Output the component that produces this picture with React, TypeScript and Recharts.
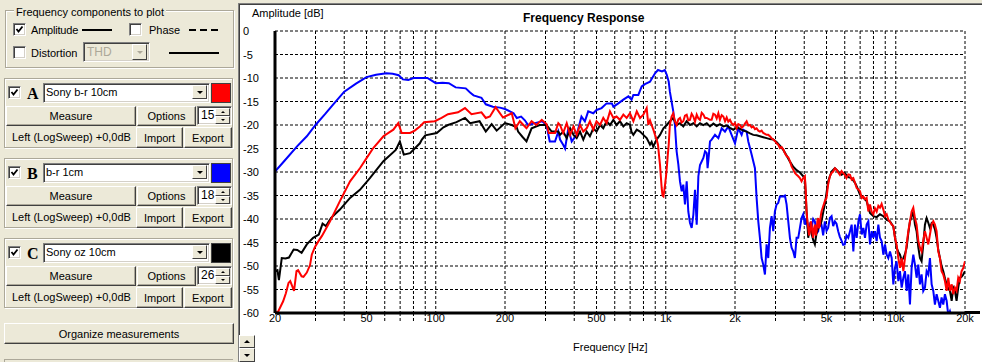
import React from 'react';
import { LineChart, Line, XAxis, YAxis, CartesianGrid } from 'recharts';

// A: Sony b-r 10cm (red)
const freqA = [
  20, 20.5, 21.7, 22.3, 22.9, 23.3, 24.2, 24.8, 25.2, 26.1,
  26.6, 27.5, 28.4, 28.9, 29.8, 31.1, 32, 34.7, 38.3, 42.4,
  46.8, 50.1, 53.5, 59.2, 65.4, 68.7, 71.1, 77.3, 81, 85.3,
  89, 99, 106, 113, 125, 134, 143, 158, 165, 172,
  182, 196, 214, 222, 232, 248, 261, 274, 289, 303,
  310, 330, 341, 347, 358, 371, 384, 397, 410, 424,
  438, 453, 468, 484, 500, 518, 535, 553, 572, 592,
  611, 632, 654, 676, 699, 723, 748, 773, 799, 826,
  840, 854, 868, 883, 898, 912, 925, 935, 944, 952,
  960, 968, 977, 985, 993, 1002, 1010, 1020, 1030, 1042,
  1060, 1078, 1096, 1115, 1134, 1153, 1172, 1192, 1212, 1233,
  1253, 1274, 1296, 1318, 1340, 1363, 1386, 1409, 1433, 1457,
  1482, 1507, 1557, 1583, 1610, 1637, 1665, 1693, 1720, 1750,
  1780, 1810, 1840, 1870, 1902, 1933, 1966, 2000, 2033, 2067,
  2102, 2137, 2173, 2210, 2247, 2285, 2323, 2362, 2402, 2442,
  2483, 2525, 2567, 2610, 2654, 2699, 2744, 2790, 2837, 2885,
  2933, 2982, 3032, 3083, 3136, 3190, 3243, 3297, 3352, 3409,
  3466, 3524, 3583, 3643, 3705, 3767, 3830, 3894, 3960, 4026,
  4060, 4094, 4130, 4163, 4200, 4233, 4270, 4303, 4340, 4377,
  4410, 4450, 4490, 4525, 4560, 4600, 4640, 4678, 4715, 4755,
  4835, 4916, 4998, 5080, 5170, 5260, 5345, 5435, 5525, 5620,
  5713, 5810, 5905, 6000, 6105, 6215, 6325, 6430, 6540, 6649,
  6760, 6880, 6990, 7110, 7230, 7349, 7470, 7600, 7726, 7860,
  7990, 8120, 8260, 8400, 8540, 8680, 8830, 8977, 9130, 9280,
  9437, 9600, 9760, 9920, 10080, 10260, 10430, 10610, 10790, 10965,
  11150, 11340, 11527, 11720, 11920, 12118, 12320, 12530, 12740, 12950,
  13170, 13393, 13620, 13850, 14080, 14320, 14560, 14800, 15050, 15300,
  15560, 15820, 16090, 16360, 16640, 16920, 17200, 17500, 17790, 18080,
  18380, 18690, 19000, 19330, 19660, 20000,
];
const ampA = [
  -59.6, -60, -57.5, -55.8, -53.6, -53.2, -55.3, -51.1, -50.9, -52.2,
  -52.3, -51.4, -49.8, -47.6, -46.0, -44.5, -43.6, -40.5, -36.2, -32,
  -29.2, -27, -24.9, -22.4, -21, -19.6, -21.7, -21.7, -21.2, -20.3,
  -19.4, -19.2, -18.5, -17.7, -17.3, -16.4, -17.7, -17.3, -18.5, -18.2,
  -16.2, -18.4, -17.5, -20.7, -19.2, -20.7, -19.2, -20, -18.9, -19.8,
  -21.7, -21.7, -19.6, -20, -21.7, -19.6, -22.1, -20.3, -22.1, -20,
  -21.4, -20.7, -19.2, -21, -19.2, -20, -18.5, -19.6, -17.1, -18.5,
  -18.2, -18.9, -17.8, -18.5, -17.5, -19.2, -17.1, -18.5, -17.8, -16.4,
  -20, -19, -20, -21, -22.1, -23, -24.2, -26.5, -28.5, -31,
  -33.4, -35, -35.2, -34, -32.7, -31, -29.2, -26.5, -24.2, -20,
  -18.2, -17.5, -19.2, -20, -18.8, -18.5, -19.5, -19.2, -18, -17.8,
  -19, -18.9, -17.6, -18.2, -19.3, -17.8, -18.6, -18.9, -17.4, -17.8,
  -18.5, -18.5, -18.9, -18.9, -17.6, -17.8, -18.6, -17.5, -18.9, -17.9,
  -18.2, -19.2, -18.4, -19.3, -18.9, -19.6, -20, -19.6, -20.7, -19.8,
  -20, -20.6, -20.3, -19.7, -19.2, -20.1, -20, -20.5, -20.3, -20.9,
  -20.7, -21.2, -21.4, -21.2, -21.7, -21.9, -22.1, -22.1, -22.4, -22.8,
  -23.1, -23.4, -23.9, -24.2, -24.9, -24.7, -25.2, -26, -26.6, -26.9,
  -27.7, -28.8, -29.5, -30.2, -30.6, -30.9, -31.3, -32, -31.3, -30.9,
  -34, -38.4, -40.5, -41.9, -43.5, -42.6, -40.5, -41.2, -43, -44,
  -42, -41.2, -43.5, -42.6, -40.5, -39.8, -42, -41.2, -39.5, -38.4,
  -37.3, -36.2, -35.5, -32.7, -30.9, -30.2, -29.9, -29.2, -29.5, -30.1,
  -30.6, -29.8, -30.2, -30.6, -31.3, -30.5, -30.6, -31.6, -31.3, -32.3,
  -33.4, -33.7, -34.1, -35.5, -35.2, -35.8, -35.5, -38.4, -36.9, -38.5,
  -39, -37.7, -38.4, -37.2, -37.6, -36.8, -38, -39.4, -39, -40.1,
  -40.6, -41.2, -41.5, -44, -45.4, -48.3, -50.4, -48.3, -51.1, -48.3,
  -45.4, -42.6, -40.5, -38.4, -37.6, -39.8, -41.2, -44.6, -46.1, -46.9,
  -44.6, -42.6, -44, -45.4, -43.3, -41.2, -40.5, -41.2, -42.6, -46.9,
  -48.3, -51.1, -51.8, -53.2, -55.3, -52.5, -55.3, -53.9, -56, -54.6,
  -55.3, -52.5, -53.2, -51.1, -50.4, -49,
];

// B: b-r 1cm (blue)
const freqB = [
  20, 22, 25, 27.5, 30, 33, 36, 40, 45, 50,
  55, 61, 65, 69, 72, 76, 80, 85, 92, 100,
  107, 114, 122, 135, 141, 146, 158, 165, 177, 190,
  200, 210, 218, 225, 235, 244, 252, 270, 290, 303,
  313, 330, 341, 347, 358, 365, 371, 377, 390, 410,
  430, 445, 460, 484, 500, 526, 553, 583, 592, 622,
  654, 688, 710, 723, 760, 786, 812, 854, 898, 925,
  963, 990, 1010, 1030, 1042, 1060, 1078, 1096, 1115, 1134,
  1153, 1173, 1192, 1212, 1233, 1253, 1274, 1296, 1318, 1340,
  1363, 1386, 1409, 1457, 1482, 1507, 1520, 1540, 1557, 1583,
  1637, 1693, 1750, 1809, 1870, 1933, 2000, 2067, 2137, 2173,
  2247, 2285, 2362, 2442, 2483, 2525, 2567, 2610, 2654, 2699,
  2744, 2790, 2837, 2885, 2933, 2982, 3032, 3083, 3136, 3243,
  3297, 3352, 3409, 3466, 3524, 3583, 3643, 3705, 3767, 3830,
  3894, 3960, 4026, 4094, 4163, 4233, 4303, 4377, 4450, 4525,
  4600, 4678, 4755, 4835, 4916, 5000, 5080, 5170, 5260, 5345,
  5435, 5525, 5620, 5713, 5810, 5905, 6000, 6105, 6215, 6325,
  6430, 6540, 6649, 6760, 6880, 6990, 7110, 7230, 7349, 7470,
  7600, 7726, 7860, 7990, 8120, 8260, 8400, 8540, 8680, 8830,
  8977, 9130, 9280, 9437, 9600, 9760, 9920, 10080, 10260, 10430,
  10610, 10790, 10965, 11150, 11340, 11527, 11720, 11920, 12118, 12320,
  12530, 12740, 12950, 13170, 13393, 13620, 13850, 14080, 14320, 14560,
  14800, 15050, 15300, 15560, 15820, 16090, 16360, 16640, 16920, 17200,
  17500, 17790, 18080, 18380, 18690, 19000, 20000,
];
const ampB = [
  -29.9, -27.6, -24.5, -22.4, -20, -17.7, -15.5, -12.9, -11.2, -9.8,
  -9.3, -9.0, -9.1, -9.4, -10.3, -10.4, -10, -10, -10, -11.1,
  -11, -11.1, -12, -12.2, -13.1, -13.7, -14.2, -15.6, -16.1, -16.3,
  -16.6, -17.1, -17.5, -18.5, -18.2, -19, -20, -19.6, -19.2, -20,
  -23.5, -23.5, -21.4, -23.1, -24.2, -25, -22.8, -20.7, -23.5, -22.1,
  -18.2, -19.2, -17.1, -17.5, -16.8, -16.4, -15.4, -15.4, -16.1, -15.4,
  -14.6, -13.9, -14.6, -13.6, -13.6, -11.8, -11.3, -10.8, -9, -8.3,
  -8.6, -8.3, -9.3, -10.8, -12.9, -15, -17.1, -20, -25.6, -28.4,
  -32, -34.1, -32.7, -36.9, -32, -38.4, -40.8, -41.9, -39.1, -33.8,
  -41.2, -30.9, -28.5, -27, -25.6, -26, -29.2, -26.3, -23.5, -23.1,
  -22.1, -22.8, -20.7, -21.4, -20.3, -22.1, -23.9, -20.7, -22.1, -21,
  -21.4, -23.5, -26.3, -29.2, -35.5, -40.5, -44, -48.3, -49.7, -51.8,
  -45.4, -48.3, -41.9, -39.4, -42.6, -38.4, -36.9, -36.6, -35.2, -35.2,
  -35, -36.9, -40.5, -44, -46.1, -46.9, -48.3, -44, -44, -41.9,
  -39.8, -39, -41.2, -39.8, -42.6, -41.2, -41.9, -40, -40.5, -43,
  -42.6, -40.2, -41.2, -43.5, -40.5, -42.5, -41.9, -39.8, -39.4, -41.5,
  -40.5, -41, -42.6, -43.8, -44.6, -45.5, -45.4, -43.5, -44, -42.6,
  -41.2, -46.9, -41.2, -44, -40.5, -39, -43.3, -41.9, -44, -41.2,
  -40.5, -45.4, -42.6, -44, -42.6, -44.7, -41.2, -44, -44.7, -47.6,
  -45.4, -47.6, -48.3, -46.9, -48.3, -53.9, -50.4, -49, -53.2, -51.1,
  -54.6, -52.5, -51.1, -55.3, -51.8, -58.2, -50.4, -47.6, -49.7, -52.5,
  -49.7, -53.9, -51.8, -55.3, -54.6, -51.1, -51.8, -48.3, -53.9, -55.3,
  -58.2, -56, -57.4, -58.9, -56.7, -58.2, -56, -57.4, -60.5, -59.6,
  -61, -62, -59.8, -63, -64, -65, -66,
];

// C: Sony oz 10cm (black)
const freqC = [
  20, 20.5, 20.8, 21.4, 22.2, 23, 24.1, 25, 26.1, 27.5,
  29.3, 31, 32.2, 33.3, 35, 38.3, 42.4, 46.8, 51.7, 59.2,
  67, 69.8, 72.6, 77.3, 81, 85.3, 87, 90, 101, 108,
  113, 123, 134, 141, 155, 165, 175, 184, 200, 214,
  225, 228, 238, 248, 261, 283, 303, 319, 341, 347,
  358, 371, 384, 397, 410, 424, 438, 453, 468, 484,
  500, 518, 535, 553, 572, 592, 611, 632, 654, 676,
  699, 710, 723, 748, 773, 799, 826, 854, 868, 882,
  898, 912, 944, 977, 1010, 1042, 1078, 1115, 1153, 1192,
  1233, 1274, 1318, 1363, 1409, 1457, 1507, 1557, 1610, 1665,
  1720, 1780, 1840, 1902, 1966, 2033, 2102, 2173, 2247, 2323,
  2402, 2483, 2567, 2654, 2744, 2837, 2933, 3032, 3136, 3243,
  3352, 3466, 3583, 3705, 3830, 3960, 4026, 4094, 4130, 4163,
  4200, 4233, 4303, 4377, 4450, 4525, 4600, 4678, 4755, 4835,
  4916, 4998, 5080, 5260, 5435, 5620, 5810, 6000, 6215, 6430,
  6649, 6760, 6990, 7230, 7470, 7726, 7990, 8260, 8540, 8830,
  9130, 9437, 9760, 10080, 10260, 10430, 10610, 10790, 10965, 11150,
  11340, 11527, 11720, 11920, 12118, 12320, 12530, 12740, 12950, 13170,
  13393, 13620, 13850, 14080, 14320, 14560, 14800, 15050, 15300, 15560,
  15820, 16090, 16360, 16640, 16920, 17200, 17500, 17790, 18080, 18380,
  18690, 19000, 19330, 19660, 20000,
];
const ampC = [
  -51.1, -50.9, -53, -48.3, -48.4, -48.2, -46.5, -46.6, -47.2, -45.4,
  -44, -43.3, -41, -41.5, -39.8, -38, -35.5, -33.8, -31.3, -27.7,
  -25.3, -23.5, -26.3, -26, -25, -23.9, -23.1, -22.2, -21.7, -20.5,
  -20, -19.4, -18.5, -19.6, -19.2, -21.4, -19.8, -21.2, -19.6, -20,
  -20.5, -21.4, -22.5, -23.5, -20.7, -20, -20, -21.4, -21.4, -22.1,
  -21.4, -22.8, -20.7, -22.1, -22.8, -21.4, -23.1, -21.4, -22.4, -20.7,
  -21.4, -20, -20.7, -19.2, -20, -18.9, -20, -19.2, -20.3, -19.6,
  -20, -21.5, -22.1, -21, -21.4, -22.1, -22.8, -24.2, -23.6, -24.6,
  -23.8, -23.1, -22.1, -20.7, -20, -19.2, -18.5, -20, -19.6, -20.3,
  -19.2, -20, -19.6, -20.3, -19.6, -20, -19.6, -20.3, -19.7, -20.2,
  -19.8, -20.3, -20.1, -20.6, -21, -20.5, -20.8, -21.2, -21.4, -21.8,
  -22.1, -22.2, -22.4, -22.6, -22.8, -23, -23.1, -23.6, -24.4, -25.3,
  -26.5, -27.8, -28.9, -29.6, -30.1, -30.9, -31.3, -38.4, -41, -44,
  -42.5, -41.5, -43.1, -44.5, -45.4, -43, -41.9, -41.5, -40.5, -38.6,
  -36.9, -34.5, -32, -29.9, -29.2, -29.9, -30.6, -30.2, -31.1, -31.3,
  -32.3, -33, -34.8, -35.5, -36.2, -38.7, -39.4, -39.6, -39, -39.4,
  -40.2, -40.5, -41.6, -46.1, -47, -47.6, -48.8, -48.3, -47.5, -46.1,
  -43, -40.5, -39.5, -38.4, -41.2, -42.6, -46, -48.3, -49, -45.4,
  -41.2, -39.8, -40.8, -41.9, -40.9, -41.2, -42.2, -44, -46.5, -48.3,
  -50, -51.1, -52.6, -53.9, -54.8, -55.3, -57.4, -54.6, -55.3, -57.4,
  -54.6, -52.5, -52.3, -51.8, -51.1,
];

const dbTicks = [0, -5, -10, -15, -20, -25, -30, -35, -40, -45, -50, -55, -60];
const gridFreqs = [
  20, 30, 40, 50, 60, 70, 80, 90, 100, 200, 300, 400, 500, 600, 700, 800, 900,
  1000, 2000, 3000, 4000, 5000, 6000, 7000, 8000, 9000, 10000, 20000,
];
const freqLabels: Record<number, string> = {
  20: '20', 50: '50', 100: '100', 200: '200', 500: '500',
  1000: '1k', 2000: '2k', 5000: '5k', 10000: '10k', 20000: '20k',
};

const measurements = [
  { letter: 'A', name: 'Sony b-r 10cm', color: '#FF0000', avg: '15' },
  { letter: 'B', name: 'b-r 1cm', color: '#0000FF', avg: '18' },
  { letter: 'C', name: 'Sony oz 10cm', color: '#000000', avg: '26' },
];

const toRows = (f: number[], a: number[]) => f.map((v, i) => ({ f: v, db: a[i] }));
const seriesA = toRows(freqA, ampA);
const seriesB = toRows(freqB, ampB);
const seriesC = toRows(freqC, ampC);

const FONT = '"Liberation Sans", Arial, sans-serif';
const BG = '#ECE9D8';

const abs = (x: number, y: number, w?: number, h?: number): React.CSSProperties => ({
  position: 'absolute', left: x, top: y, width: w, height: h, boxSizing: 'border-box',
});

const Label = ({ x, y, text, style }: { x: number; y: number; text: string; style?: React.CSSProperties }) => (
  <div style={{ ...abs(x, y - 7), height: 14, lineHeight: '14px', fontSize: 11, whiteSpace: 'nowrap', ...style }}>{text}</div>
);

const Button = ({ x, y, w, h, label }: { x: number; y: number; w: number; h: number; label: string }) => (
  <div style={{
    ...abs(x, y, w, h), background: BG,
    borderTop: '1px solid #fff', borderLeft: '1px solid #fff',
    borderRight: '1px solid #404040', borderBottom: '1px solid #404040',
    boxShadow: 'inset -1px -1px 0 #ACA899',
    display: 'flex', alignItems: 'center', justifyContent: 'center', fontSize: 11,
  }}>{label}</div>
);

const Tri = ({ down = true, size = 3.5, color = '#000' }: { down?: boolean; size?: number; color?: string }) => (
  <div style={{
    width: 0, height: 0,
    borderLeft: `${size}px solid transparent`, borderRight: `${size}px solid transparent`,
    ...(down ? { borderTop: `${size}px solid ${color}` } : { borderBottom: `${size}px solid ${color}` }),
  }} />
);

const SmallBtn = ({ x, y, w, h, down, color }: { x: number; y: number; w: number; h: number; down: boolean; color?: string }) => (
  <div style={{
    ...abs(x, y, w, h), background: BG,
    borderTop: '1px solid #fff', borderLeft: '1px solid #fff',
    borderRight: '1px solid #404040', borderBottom: '1px solid #404040',
    display: 'flex', alignItems: 'center', justifyContent: 'center',
  }}><Tri down={down} size={h > 10 ? 3.5 : 2.5} color={color} /></div>
);

const sunken: React.CSSProperties = {
  borderTop: '1px solid #808080', borderLeft: '1px solid #808080',
  borderRight: '1px solid #fff', borderBottom: '1px solid #fff',
  boxShadow: 'inset 1px 1px 0 #404040, inset -1px -1px 0 #D4D0C8',
};

const CheckBox = ({ x, y, checked }: { x: number; y: number; checked?: boolean }) => (
  <div style={{ ...abs(x, y, 13, 13), background: '#fff', ...sunken }}>
    {checked && (
      <svg width={11} height={11} style={{ position: 'absolute', left: 0, top: 0 }}>
        <path d="M2.5 5 L4.5 7.5 L8.5 2.5" stroke="#000" strokeWidth={1.8} fill="none" />
      </svg>
    )}
  </div>
);

const Frame = ({ x, y, w, h }: { x: number; y: number; w: number; h: number }) => (
  <div style={{ ...abs(x, y, w, h), border: '1px solid #ACA899', boxShadow: 'inset 1px 1px 0 #fff, 1px 1px 0 #fff' }} />
);

const MeasurementBox = ({ y, letter, name, color, avg }: { y: number; letter: string; name: string; color: string; avg: string }) => (
  <>
    <Frame x={4} y={y} w={229} h={70} />
    <CheckBox x={8} y={y + 8} checked />
    <Label x={27} y={y + 16} text={letter} style={{ fontFamily: '"Liberation Serif", serif', fontWeight: 'bold', fontSize: 16 }} />
    <div style={{ ...abs(43, y + 5, 167, 20), background: '#fff', ...sunken }}>
      <Label x={2} y={8} text={name} />
      <SmallBtn x={148} y={1} w={15} h={14} down />
    </div>
    <div style={{ ...abs(211, y + 5, 20, 20), background: color, border: '1px solid #404040' }} />
    <Button x={6} y={y + 28} w={130} h={20} label="Measure" />
    <Button x={137} y={y + 28} w={59} h={20} label="Options" />
    <div style={{ ...abs(197, y + 28, 35, 19), background: '#fff', ...sunken }}>
      <Label x={3} y={8} text={avg} style={{ fontSize: 12 }} />
      <SmallBtn x={17} y={1} w={15} h={8} down={false} />
      <SmallBtn x={17} y={9} w={15} h={8} down />
    </div>
    <Label x={12} y={y + 59} text="Left (LogSweep) +0,0dB" />
    <Button x={136} y={y + 49} w={47} h={21} label="Import" />
    <Button x={184} y={y + 49} w={48} h={21} label="Export" />
  </>
);

// labelled ticks show text, the others continue the dashed grid below the axis
const FreqTick = (props: any) => {
  const { x, y, payload } = props;
  const label = freqLabels[payload.value];
  if (!label) {
    return <line x1={x} y1={y - 10} x2={x} y2={y - 2} stroke="#000" strokeDasharray="3 2" />;
  }
  return (
    <text x={x} y={y - 5} textAnchor="middle" dominantBaseline="central" fontSize={11} fontFamily={FONT} fill="#000">
      {label}
    </text>
  );
};

const DbTick = (props: any) => {
  const { y, payload } = props;
  return (
    <text x={3} y={y} textAnchor="start" dominantBaseline="central" fontSize={11} fontFamily={FONT} fill="#000">
      {payload.value}
    </text>
  );
};

const FrequencyChart = () => (
  <LineChart width={742} height={357} margin={{ top: 26, right: 17, bottom: 0, left: 0 }}>
    <CartesianGrid stroke="#000" strokeDasharray="3 2" />
    <XAxis
      dataKey="f"
      type="number"
      scale="log"
      domain={[20, 20000]}
      allowDataOverflow
      ticks={gridFreqs}
      interval={0}
      height={49}
      tick={FreqTick}
      tickSize={8}
      tickLine={false}
      axisLine={{ stroke: '#000', strokeWidth: 3 }}
    />
    <YAxis
      type="number"
      domain={[-60, 0]}
      allowDataOverflow
      ticks={dbTicks}
      interval={0}
      width={35}
      tick={DbTick}
      tickLine={false}
      axisLine={{ stroke: '#000', strokeWidth: 3 }}
    />
    <Line data={seriesB} dataKey="db" stroke="#0000FF" strokeWidth={2} dot={false} isAnimationActive={false} />
    <Line data={seriesC} dataKey="db" stroke="#000000" strokeWidth={2} dot={false} isAnimationActive={false} />
    <Line data={seriesA} dataKey="db" stroke="#FF0000" strokeWidth={2} dot={false} isAnimationActive={false} />
  </LineChart>
);

export default function App() {
  return (
    <div style={{ ...abs(0, 0, 982, 362), background: BG, overflow: 'hidden', fontFamily: FONT, color: '#000' }}>
      {/* plot options */}
      <Frame x={5} y={10} w={229} h={58} />
      <Label x={14} y={12} text="Frequency components to plot" style={{ background: BG, padding: '0 2px' }} />
      <CheckBox x={13} y={23} checked />
      <Label x={31} y={30} text="Amplitude" style={{ letterSpacing: -0.2 }} />
      <div style={{ ...abs(82, 29, 30, 2), background: '#000' }} />
      <CheckBox x={129} y={23} />
      <Label x={149} y={30} text="Phase" />
      <svg style={{ position: 'absolute', left: 189, top: 28 }} width={31} height={4}>
        <line x1={0} y1={2} x2={31} y2={2} stroke="#000" strokeWidth={2} strokeDasharray="7 4" />
      </svg>
      <CheckBox x={13} y={46} />
      <Label x={31} y={53} text="Distortion" />
      <div style={{ ...abs(83, 42, 67, 20), background: BG, ...sunken }}>
        <Label x={3} y={9} text="THD" style={{ color: '#ACA899', fontSize: 12 }} />
        <SmallBtn x={48} y={1} w={15} h={16} down color="#ACA899" />
      </div>
      <div style={{ ...abs(169, 52, 50, 2), background: '#000' }} />

      {measurements.map((m, i) => (
        <MeasurementBox key={m.letter} y={78 + i * 80} letter={m.letter} name={m.name} color={m.color} avg={m.avg} />
      ))}

      <Button x={4} y={323} w={230} h={21} label="Organize measurements" />
      <div style={{ ...abs(4, 359, 229, 3), borderTop: '1px solid #ACA899', borderLeft: '1px solid #ACA899' }} />

      {/* chart panel */}
      <div style={{ ...abs(238, 3, 744, 359), background: '#fff', borderTop: '1px solid #808080', borderLeft: '1px solid #808080', boxShadow: 'inset 1px 1px 0 #404040' }} />
      <div style={{ position: 'absolute', left: 240, top: 5 }}>
        <FrequencyChart />
      </div>
      <Label x={252} y={13} text="Amplitude [dB]" />
      <Label x={523} y={18} text="Frequency Response" style={{ fontWeight: 'bold', fontSize: 12 }} />
      <Label x={573} y={347} text="Frequency [Hz]" />
      <div style={{ ...abs(965, 311, 15, 3), background: '#000' }} />
      <SmallBtn x={239} y={335} w={16} h={13} down={false} />
      <SmallBtn x={239} y={348} w={16} h={14} down />
    </div>
  );
}
